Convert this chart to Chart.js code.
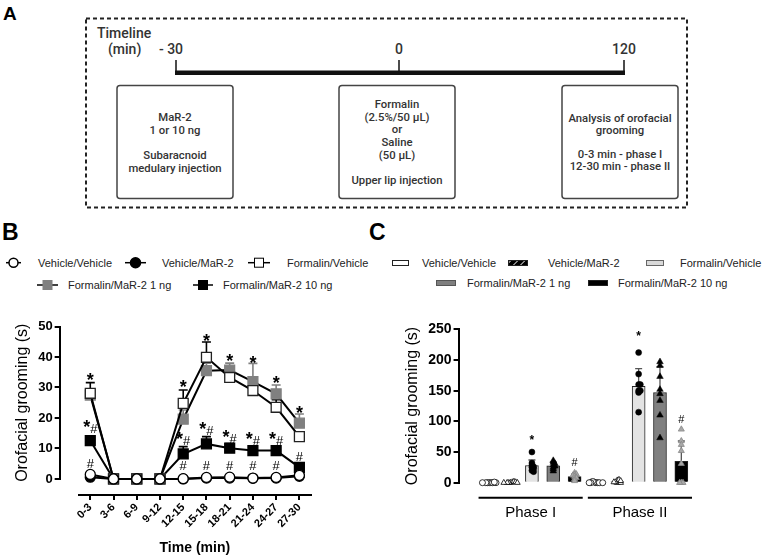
<!DOCTYPE html>
<html>

<head>
    <title>MaR-2 orofacial grooming</title>
    <script src="https://cdn.jsdelivr.net/npm/chart.js"></script>
    <style>
        body {
            margin: 0;
            width: 764px;
            height: 557px;
            position: relative;
            overflow: hidden;
            background: #fff;
            font-family: "Liberation Sans", Arial, sans-serif;
        }

        #overlay {
            position: absolute;
            left: 0;
            top: 0;
        }

        #chartB {
            position: absolute;
            left: 0;
            top: 292px;
        }

        #chartC {
            position: absolute;
            left: 380px;
            top: 292px;
        }
    </style>
</head>

<body>
    <svg id="overlay" width="764" height="300">
        <defs>
            <pattern id="hatch" width="5" height="5" patternUnits="userSpaceOnUse" patternTransform="rotate(45)">
                <rect width="5" height="5" fill="#000" />
                <line x1="0" y1="0" x2="0" y2="5" stroke="#fff" stroke-width="1.6" />
            </pattern>
        </defs>

        <!-- panel A: experimental timeline -->
        <text x="3" y="20" font-family="Liberation Sans, Arial" font-weight="bold" font-size="19">A</text>
        <rect x="86" y="18.5" width="601" height="189" fill="none" stroke="#222" stroke-width="2" stroke-dasharray="4 3" />
        <g font-family="Roboto, sans-serif" font-weight="500" fill="#333" font-size="14">
            <text x="97" y="37.5">Timeline</text>
            <text x="108" y="54">(min)</text>
            <text x="171" y="54" text-anchor="middle">- 30</text>
            <text x="399" y="54" text-anchor="middle">0</text>
            <text x="624" y="54" text-anchor="middle">120</text>
        </g>
        <rect x="175" y="70.5" width="450" height="4.5" fill="#111" />
        <line x1="176" y1="60" x2="176" y2="72" stroke="#111" stroke-width="1.5" />
        <line x1="399" y1="60" x2="399" y2="72" stroke="#111" stroke-width="1.5" />
        <line x1="624" y1="60" x2="624" y2="72" stroke="#111" stroke-width="1.5" />
        <g fill="#fff" stroke="#444" stroke-width="1.5">
            <rect x="117" y="85.5" width="116" height="113" rx="3" />
            <rect x="339" y="85.5" width="116" height="113" rx="3" />
            <rect x="562" y="85.5" width="116" height="113" rx="3" />
        </g>
        <g font-family="Roboto, sans-serif" font-weight="500" fill="#333" font-size="11.3" text-anchor="middle">
            <text x="175" y="121">MaR-2</text>
            <text x="175" y="134">1 or 10 ng</text>
            <text x="175" y="159">Subaracnoid</text>
            <text x="175" y="172">medulary injection</text>
            <text x="397" y="108">Formalin</text>
            <text x="397" y="121">(2.5%/50 μL)</text>
            <text x="397" y="133">or</text>
            <text x="397" y="146">Saline</text>
            <text x="397" y="159">(50 μL)</text>
            <text x="397" y="184">Upper lip injection</text>
            <text x="620" y="122">Analysis of orofacial</text>
            <text x="620" y="134">grooming</text>
            <text x="620" y="158">0-3 min - phase I</text>
            <text x="620" y="170">12-30 min - phase II</text>
        </g>

        <!-- panel labels -->
        <text x="2" y="240" font-family="Liberation Sans, Arial" font-weight="bold" font-size="23">B</text>
        <text x="369" y="240" font-family="Liberation Sans, Arial" font-weight="bold" font-size="23">C</text>

        <!-- legend B -->
        <g stroke="#000" stroke-width="1.5">
            <line x1="6" y1="262.7" x2="21" y2="262.7" />
            <circle cx="13.5" cy="262.7" r="4.5" fill="#fff" />
            <line x1="125" y1="262.7" x2="146" y2="262.7" />
            <circle cx="135.5" cy="262.7" r="5" fill="#000" />
            <line x1="248" y1="262.7" x2="270" y2="262.7" />
            <rect x="254.5" y="258.2" width="9" height="9" fill="#fff" stroke-width="1" />
            <line x1="37" y1="285" x2="58" y2="285" />
            <rect x="43" y="280.5" width="9" height="9" fill="#808080" stroke="#808080" stroke-width="1" />
            <line x1="193" y1="285" x2="213" y2="285" />
            <rect x="198.5" y="280.5" width="9" height="9" fill="#000" stroke-width="1" />
        </g>
        <g font-family="Liberation Sans, Arial" font-size="11" fill="#222">
            <text x="38" y="266.6">Vehicle/Vehicle</text>
            <text x="162" y="266.6">Vehicle/MaR-2</text>
            <text x="287" y="266.6">Formalin/Vehicle</text>
            <text x="68" y="289">Formalin/MaR-2 1 ng</text>
            <text x="223" y="289">Formalin/MaR-2 10 ng</text>
        </g>

        <!-- legend C -->
        <g stroke="#222" stroke-width="1">
            <rect x="392.5" y="260.5" width="16" height="5" fill="#fff" />
            <rect x="508.5" y="260.5" width="19" height="5" fill="url(#hatch)" />
            <rect x="646.5" y="260.5" width="17" height="5" fill="#d9d9d9" stroke="#666" />
            <rect x="436.5" y="280.5" width="19" height="5" fill="#7f7f7f" stroke="#555" />
            <rect x="588.5" y="280.5" width="19" height="5" fill="#000" />
        </g>
        <g font-family="Liberation Sans, Arial" font-size="11" fill="#222">
            <text x="422" y="266.6">Vehicle/Vehicle</text>
            <text x="548" y="266.6">Vehicle/MaR-2</text>
            <text x="680" y="266.6">Formalin/Vehicle</text>
            <text x="467" y="286.6">Formalin/MaR-2 1 ng</text>
            <text x="618" y="286.6">Formalin/MaR-2 10 ng</text>
        </g>
    </svg>

    <canvas id="chartB" width="380" height="265"></canvas>
    <canvas id="chartC" width="384" height="265"></canvas>

    <script>
        // ---------- panel B: time course (mean ± SEM) ----------
        const timeBins = ['0-3', '3-6', '6-9', '9-12', '12-15', '15-18', '18-21', '21-24', '24-27', '27-30'];
        const vehVeh = [1.5, 0, 0, 0, 0.1, 0.5, 0.6, 0.3, 0.5, 1.2];
        const vehMar = [0.6, 0, 0, 0, 0, 0.3, 0.3, 0.2, 0.3, 0.9];
        const formVeh = [28.1, 0, 0, 0, 24.8, 39.9, 33.3, 29.0, 23.5, 13.9];
        const formMar1 = [27.5, 0, 0, 0, 19.6, 35.5, 35.7, 31.9, 27.9, 18.3];
        const formMar10 = [12.6, 0, 0, 0, 8.2, 11.5, 10.1, 9.3, 9.3, 3.8];
        const semFormVeh = [3.5, 0, 0, 0, 4.4, 5.0, 2.0, 2.5, 2.5, 1.5];
        const semFormMar1 = [2.0, 0, 0, 0, 3.0, 2.5, 2.3, 6.0, 2.9, 3.0];
        const semFormMar10 = [1.4, 0, 0, 0, 2.4, 2.4, 1.5, 1.0, 1.0, 1.0];
        // significance marks: [bin index, y value, text]
        const marksB = [
            [0, 34, '*'], [4, 31.7, '*'], [5, 46.7, '*'], [6, 40, '*'], [7, 39.6, '*'], [8, 33, '*'], [9, 23.2, '*'],
            [0, 16.6, '*#'], [4, 12.8, '*#'], [5, 16, '*#'], [6, 13.3, '*#'], [7, 12.6, '*#'], [8, 12.6, '*#'], [9, 7.5, '#'],
            [0, 5.1, '#'], [4, 4.4, '#'], [5, 4.4, '#'], [6, 4.4, '#'], [7, 4.4, '#'], [8, 4.4, '#']
        ];

        // ---------- panel C: phases (mean ± SD with individual values) ----------
        const groupsC = ['Vehicle/Vehicle', 'Vehicle/MaR-2', 'Formalin/Vehicle', 'Formalin/MaR-2 1 ng', 'Formalin/MaR-2 10 ng'];
        const phasesC = ['Phase I', 'Phase II'];
        const meanPhaseI = [0.5, 1, 28, 27.5, 10];
        const meanPhaseII = [1, 2, 157, 147, 35];
        const sdPhaseI = [0, 0, 9, 6, 4];
        const sdPhaseII = [0, 0, 29, 42, 33];
        const ptsPhaseI = [
            [0, 0, 0, 0, 0, 0, 1, 0],
            [0, 1, 0, 2, 0, 1, 0, 0],
            [50, 32, 28, 26, 25, 23, 20, 18],
            [36, 33, 31, 29, 27, 25, 22, 19],
            [16, 14, 13, 12, 10, 8, 6, 3]
        ];
        const ptsPhaseII = [
            [0, 0, 1, 0, 2, 0, 0, 0],
            [0, 2, 4, 1, 5, 0, 3, 1],
            [212, 177, 160, 160, 150, 147, 150, 115],
            [197, 191, 173, 152, 145, 134, 110, 73],
            [87, 68, 62, 52, 31, 0, 0, 0]
        ];
        // [phase index, group index, y value, text]
        const marksC = [[0, 2, 74, '*'], [0, 4, 33, '#'], [1, 2, 244, '*'], [1, 4, 104, '#']];

        const FONT = '"Liberation Sans", Arial, sans-serif';
        Chart.defaults.font.family = FONT;
        Chart.defaults.color = '#000';

        // empty scale, only there to leave the gap between the two axes
        function gapScale(axis, position, size) {
            return {
                type: 'linear', axis: axis, position: position, weight: 0,
                grid: { display: false }, border: { display: false }, ticks: { display: false },
                afterFit(s) {
                    if (axis === 'x') s.height = size; else s.width = size;
                }
            };
        }

        function drawMark(ctx, x, y, text, starSize, hashSize) {
            const starFont = 'bold ' + starSize + 'px ' + FONT;
            const hashFont = hashSize + 'px ' + FONT;
            const widths = text.split('').map(ch => {
                ctx.font = ch === '*' ? starFont : hashFont;
                return ctx.measureText(ch).width;
            });
            const total = widths.reduce((a, b) => a + b, 0);
            const base = text.indexOf('#') >= 0 ? y + 0.36 * hashSize : y + 0.58 * starSize;
            let cx = x - total / 2;
            ctx.textAlign = 'left';
            ctx.textBaseline = 'alphabetic';
            ctx.fillStyle = '#000';
            text.split('').forEach((ch, i) => {
                ctx.font = ch === '*' ? starFont : hashFont;
                ctx.fillText(ch, cx, base);
                cx += widths[i];
            });
        }

        const errorBarsB = {
            id: 'errorBarsB',
            beforeDatasetsDraw(chart) {
                const { ctx, scales: { x, y } } = chart;
                const sets = [[formVeh, semFormVeh, '#000'], [formMar1, semFormMar1, '#808080'], [formMar10, semFormMar10, '#000']];
                ctx.save();
                ctx.lineWidth = 1.6;
                sets.forEach(([m, s, col]) => {
                    ctx.strokeStyle = col;
                    m.forEach((v, i) => {
                        if (!s[i]) return;
                        const px = x.getPixelForValue(i);
                        const y0 = y.getPixelForValue(v);
                        const y1 = y.getPixelForValue(v + s[i]);
                        ctx.beginPath();
                        ctx.moveTo(px, y0);
                        ctx.lineTo(px, y1);
                        ctx.moveTo(px - 4.5, y1);
                        ctx.lineTo(px + 4.5, y1);
                        ctx.stroke();
                    });
                });
                ctx.restore();
            },
            afterDatasetsDraw(chart) {
                const { ctx, scales: { x, y } } = chart;
                ctx.save();
                marksB.forEach(([i, v, t]) => drawMark(ctx, x.getPixelForValue(i), y.getPixelForValue(v), t, 18, 13));
                ctx.restore();
            }
        };

        function lineSet(label, data, style, radius, fill, border) {
            return {
                label: label, data: data, borderColor: '#000', borderWidth: 2, tension: 0, fill: false, clip: false,
                pointStyle: style, pointRadius: radius, pointHoverRadius: radius,
                pointBackgroundColor: fill, pointBorderColor: border, pointBorderWidth: 1.3
            };
        }

        new Chart(document.getElementById('chartB'), {
            type: 'line',
            data: {
                labels: timeBins,
                datasets: [
                    lineSet('Vehicle/Vehicle', vehVeh, 'circle', 5, '#fff', '#000'),
                    lineSet('Vehicle/MaR-2', vehMar, 'circle', 5, '#000', '#000'),
                    lineSet('Formalin/Vehicle', formVeh, 'rect', 7, '#fff', '#222'),
                    lineSet('Formalin/MaR-2 1 ng', formMar1, 'rect', 7, '#808080', '#808080'),
                    lineSet('Formalin/MaR-2 10 ng', formMar10, 'rect', 7, '#000', '#000')
                ]
            },
            options: {
                responsive: false,
                animation: false,
                layout: { padding: { left: 9, right: 69, top: 34.5, bottom: 0 } },
                plugins: { legend: { display: false }, tooltip: { enabled: false } },
                scales: {
                    x: {
                        type: 'category', offset: true, weight: 1,
                        grid: { drawOnChartArea: false, tickLength: 5, lineWidth: 2, color: '#000' },
                        border: { width: 2, color: '#000' },
                        ticks: {
                            autoSkip: false, minRotation: 45, maxRotation: 45, padding: 1, color: '#000',
                            font: { weight: 'bold', size: 11 }
                        },
                        title: {
                            display: true, text: 'Time (min)', color: '#000',
                            font: { weight: 'bold', size: 14 }, padding: { top: 9, bottom: 0 }
                        }
                    },
                    gx: gapScale('x', 'bottom', 16),
                    y: {
                        type: 'linear', min: 0, max: 50, weight: 1,
                        grid: { drawOnChartArea: false, tickLength: 5, lineWidth: 2, color: '#000' },
                        border: { width: 2, color: '#000' },
                        ticks: { stepSize: 10, padding: 2, color: '#000', font: { weight: 'bold', size: 13 } },
                        title: {
                            display: true, text: 'Orofacial grooming (s)', color: '#000',
                            font: { size: 16 }, padding: { top: 4, bottom: 4 }
                        }
                    },
                    gy: gapScale('y', 'left', 19)
                }
            },
            plugins: [errorBarsB]
        });

        // ---------- chart C ----------
        const ctxC = document.getElementById('chartC').getContext('2d');
        const hatchTile = document.createElement('canvas');
        hatchTile.width = hatchTile.height = 5;
        (function () {
            const g = hatchTile.getContext('2d');
            g.fillStyle = '#000';
            g.fillRect(0, 0, 5, 5);
            g.strokeStyle = '#fff';
            g.lineWidth = 1.4;
            g.beginPath();
            g.moveTo(-1, 6); g.lineTo(6, -1);
            g.stroke();
        })();
        const hatchFill = ctxC.createPattern(hatchTile, 'repeat');

        const barFill = ['#ffffff', hatchFill, '#e3e3e3', '#808080', '#000000'];
        const nG = groupsC.length;
        const means = [meanPhaseI, meanPhaseII];
        const sds = [sdPhaseI, sdPhaseII];
        const pts = [ptsPhaseI, ptsPhaseII];

        const barData = [];
        const barColors = [];
        phasesC.forEach((p, pi) => means[pi].forEach((m, g) => {
            barData.push({ x: pi * nG + g, y: m });
            barColors.push(barFill[g]);
        }));

        // simple beeswarm: equal values are pushed sideways (pixel steps turned into axis units)
        const pxPerX = 21.4, pxPerY = 153.4 / 250;
        function swarm(values, center) {
            const placed = [];
            return values.map(v => {
                const py = v * pxPerY;
                let off = 0;
                for (let k = 0; k < 30; k++) {
                    const cand = k === 0 ? 0 : (k % 2 ? 1 : -1) * Math.ceil(k / 2) * 1.7;
                    if (placed.every(p => Math.hypot(p.x - cand, p.y - py) >= 1.7)) { off = cand; break; }
                }
                placed.push({ x: off, y: py });
                return { x: center + off / pxPerX, y: v };
            });
        }

        const pointLook = [
            { pointStyle: 'circle', pointRadius: 3, backgroundColor: '#fff', borderColor: '#000', borderWidth: 0.8 },
            { pointStyle: 'triangle', pointRadius: 3.3, backgroundColor: '#fff', borderColor: '#000', borderWidth: 0.8 },
            { pointStyle: 'circle', pointRadius: 3, backgroundColor: '#000', borderColor: '#000', borderWidth: 0.5 },
            { pointStyle: 'triangle', pointRadius: 3.8, backgroundColor: '#000', borderColor: '#000', borderWidth: 0.5 },
            { pointStyle: 'triangle', pointRadius: 3.5, backgroundColor: '#a8a8a8', borderColor: '#888', borderWidth: 0.8 }
        ];
        const scatterSets = groupsC.map((name, g) => Object.assign({
            type: 'scatter', label: name, order: 0, clip: false,
            data: phasesC.flatMap((p, pi) => swarm(pts[pi][g], pi * nG + g))
        }, pointLook[g]));

        const extrasC = {
            id: 'extrasC',
            afterDatasetDraw(chart, args) {
                if (args.meta.type !== 'bar') return;
                const { ctx, scales: { x, y } } = chart;
                ctx.save();
                ctx.strokeStyle = '#555';
                ctx.lineWidth = 1.3;
                phasesC.forEach((p, pi) => sds[pi].forEach((s, g) => {
                    if (!s) return;
                    const px = x.getPixelForValue(pi * nG + g);
                    const y0 = y.getPixelForValue(means[pi][g]);
                    const y1 = y.getPixelForValue(means[pi][g] + s);
                    ctx.beginPath();
                    ctx.moveTo(px, y0); ctx.lineTo(px, y1);
                    ctx.moveTo(px - 3.5, y1); ctx.lineTo(px + 3.5, y1);
                    ctx.stroke();
                }));
                ctx.restore();
            },
            afterDraw(chart) {
                const { ctx, chartArea, scales: { x, y } } = chart;
                ctx.save();
                marksC.forEach(([pi, g, v, t]) => drawMark(ctx, x.getPixelForValue(pi * nG + g), y.getPixelForValue(v), t, 12, 11));
                // phase brackets under the bars
                const lineY = chartArea.bottom + 15;
                ctx.strokeStyle = '#000';
                ctx.lineWidth = 2;
                ctx.fillStyle = '#000';
                ctx.font = '15px ' + FONT;
                ctx.textAlign = 'center';
                ctx.textBaseline = 'middle';
                phasesC.forEach((p, pi) => {
                    const a = x.getPixelForValue(pi * nG - 0.5 + (pi > 0 ? 0.12 : 0));
                    const b = x.getPixelForValue((pi + 1) * nG - 0.5 - (pi < phasesC.length - 1 ? 0.12 : 0));
                    ctx.beginPath();
                    ctx.moveTo(a, lineY); ctx.lineTo(b, lineY);
                    ctx.stroke();
                    ctx.fillText(p, (a + b) / 2, lineY + 15);
                });
                ctx.restore();
            }
        };

        new Chart(ctxC, {
            type: 'bar',
            data: {
                datasets: [
                    ...scatterSets,
                    {
                        type: 'bar', label: 'mean', order: 1, data: barData, backgroundColor: barColors,
                        borderColor: '#222', borderWidth: 1, barThickness: 13, grouped: false
                    }
                ]
            },
            options: {
                responsive: false,
                animation: false,
                layout: { padding: { left: 19, right: 72, top: 37.3, bottom: 74.3 } },
                plugins: { legend: { display: false }, tooltip: { enabled: false } },
                scales: {
                    x: {
                        type: 'linear', min: -0.5, max: 9.5, offset: false, weight: 1,
                        grid: { display: false }, border: { display: false }, ticks: { display: false },
                        afterFit(s) { s.height = 0; }
                    },
                    y: {
                        type: 'linear', min: 0, max: 250, weight: 1,
                        grid: { drawOnChartArea: false, tickLength: 5, lineWidth: 2, color: '#000' },
                        border: { width: 2, color: '#000' },
                        ticks: { stepSize: 50, padding: 2, color: '#000', font: { weight: 'bold', size: 14 } },
                        title: {
                            display: true, text: 'Orofacial grooming (s)', color: '#000',
                            font: { size: 16 }, padding: { top: 4, bottom: 4 }
                        }
                    },
                    gy: gapScale('y', 'left', 20)
                }
            },
            plugins: [extrasC]
        });
    </script>
</body>

</html>
